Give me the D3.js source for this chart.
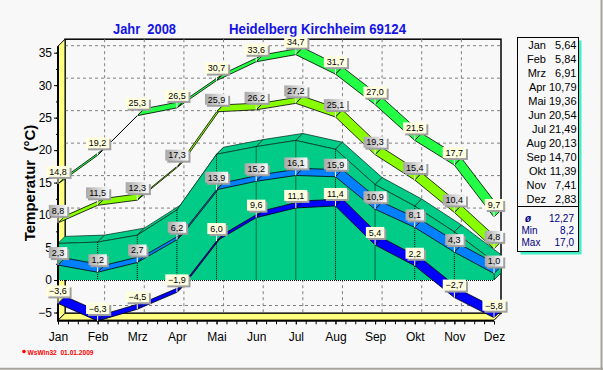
<!DOCTYPE html>
<html>
<head>
<meta charset="utf-8">
<script src="https://cdn.jsdelivr.net/npm/d3@7"></script>
<style>
  body { margin: 0; background: #f8f8f8; }
  svg { display: block; font-family: "Liberation Sans", Arial, sans-serif; }
</style>
</head>
<body>
<svg id="chart" width="603" height="370"></svg>
<script>
var months = ["Jan", "Feb", "Mrz", "Apr", "Mai", "Jun", "Jul", "Aug", "Sep", "Okt", "Nov", "Dez"];
var maxAbs = [14.8, 19.2, 25.3, 26.5, 30.7, 33.6, 34.7, 31.7, 27.0, 21.5, 17.7, 9.7];
var maxAvg = [8.8, 11.5, 12.3, 17.3, 25.9, 26.2, 27.2, 25.1, 19.3, 15.4, 10.4, 4.8];
var meanTemp = [5.64, 5.84, 6.91, 10.79, 19.36, 20.54, 21.49, 20.13, 14.70, 11.39, 7.41, 2.83];
var minAvg = [2.3, 1.2, 2.7, 6.2, 13.9, 15.2, 16.1, 15.9, 10.9, 8.1, 4.3, 1.0];
var minAbs = [-3.6, -6.3, -4.5, -1.9, 6.0, 9.6, 11.1, 11.4, 5.4, 2.2, -2.7, -5.8];
var statLabels = ["ø", "Min", "Max"];
var statValues = ["12,27", "8,2", "17,0"];
var yTicks = [-5, 0, 5, 10, 15, 20, 25, 30, 35];

var svg = d3.select("#chart");
var dx = 7, dy = -7;   // depth offset of the 3d view

var x = d3.scalePoint().domain(months).range([58, 494]);
var xi = d3.scaleLinear().domain([0, 11]).range([58, 494]);
var y = d3.scaleLinear().domain([-6.2, 36]).range([320.3, 46.2]);

var fmt = function(v) { return d3.format(".1f")(v).replace(".", ","); };
var fmt2 = function(v) { return d3.format(".2f")(v).replace(".", ","); };

var defs = svg.append("defs");
var grad = defs.append("linearGradient").attr("id", "grayLbl");
grad.append("stop").attr("offset", "0%").attr("stop-color", "#a8a8a8");
grad.append("stop").attr("offset", "100%").attr("stop-color", "#fafafa");

// window border
svg.append("rect").attr("width", 603).attr("height", 370).attr("fill", "#f8f8f8");
svg.append("line").attr("x1", 601.5).attr("x2", 601.5).attr("y1", 0).attr("y2", 370)
    .attr("stroke", "#a8a49c").attr("stroke-width", 2);
svg.append("line").attr("x1", 0).attr("x2", 603).attr("y1", 368.8).attr("y2", 368.8)
    .attr("stroke", "#a8a49c").attr("stroke-width", 2);

// title
svg.append("text").attr("x", 113).attr("y", 33.5).attr("fill", "#1414e6")
    .attr("font-size", 15).attr("font-weight", "bold")
    .attr("textLength", 63).attr("lengthAdjust", "spacingAndGlyphs")
    .style("white-space", "pre").text("Jahr  2008");
svg.append("text").attr("x", 229).attr("y", 33.5).attr("fill", "#1414e6")
    .attr("font-size", 15).attr("font-weight", "bold")
    .attr("textLength", 177).attr("lengthAdjust", "spacingAndGlyphs")
    .text("Heidelberg Kirchheim 69124");

// back wall
var bx0 = 58 + dx, bx1 = 494 + dx, by0 = y(36) + dy, by1 = y(-6.2) + dy;
svg.append("rect").attr("x", bx0).attr("y", by0).attr("width", bx1 - bx0).attr("height", by1 - by0)
    .attr("fill", "#f8f8f8").attr("stroke", "#000").attr("stroke-width", 1.5);

var grid = svg.append("g").attr("stroke", "#808080").attr("stroke-dasharray", "3,3");
grid.selectAll("line.h").data(yTicks).enter().append("line").attr("class", "h")
    .attr("x1", bx0).attr("x2", bx1)
    .attr("y1", function(d) { return y(d) + dy; }).attr("y2", function(d) { return y(d) + dy; });
grid.selectAll("line.v").data(months.slice(1, 11)).enter().append("line").attr("class", "v")
    .attr("x1", function(d) { return x(d) + dx; }).attr("x2", function(d) { return x(d) + dx; })
    .attr("y1", by0).attr("y2", by1);

// left wall and floor
svg.append("polygon")
    .attr("points", [[58, y(-6.2)], [58, y(36)], [bx0, by0], [bx0, by1]].join(" "))
    .attr("fill", "#ffff80").attr("stroke", "#000").attr("stroke-width", 1);
svg.append("polygon")
    .attr("points", [[58, y(-6.2)], [494, y(-6.2)], [bx1, by1], [bx0, by1]].join(" "))
    .attr("fill", "#ffff80").attr("stroke", "#000").attr("stroke-width", 1);

// 3d area for monthly mean
var meanPts = meanTemp.map(function(v, i) { return [xi(i), y(v)]; });
var area = svg.append("g");
area.selectAll("polygon.top").data(d3.pairs(meanPts)).enter().append("polygon")
    .attr("points", function(p) {
        return [p[0], p[1], [p[1][0] + dx, p[1][1] + dy], [p[0][0] + dx, p[0][1] + dy]].join(" ");
    })
    .attr("fill", "#00cc88").attr("stroke", "#0a3a2a").attr("stroke-width", 0.8);
var last = meanPts[11];
area.append("polygon")
    .attr("points", [last, [last[0] + dx, last[1] + dy], [last[0] + dx, y(0) + dy], [last[0], y(0)]].join(" "))
    .attr("fill", "#00cc88").attr("stroke", "#0a3a2a").attr("stroke-width", 0.8);
area.append("path")
    .attr("d", d3.area().x(function(d, i) { return xi(i); }).y0(y(0)).y1(function(d) { return y(d); })(meanTemp))
    .attr("fill", "#00cc88");
area.append("path")
    .attr("d", d3.line().x(function(d, i) { return xi(i); }).y(function(d) { return y(d); })(meanTemp))
    .attr("fill", "none").attr("stroke", "#0a3a2a").attr("stroke-width", 0.8);
area.selectAll("line.drop").data(meanTemp.slice(1)).enter().append("line")
    .attr("x1", function(d, i) { return xi(i + 1); }).attr("x2", function(d, i) { return xi(i + 1); })
    .attr("y1", function(d) { return y(d); }).attr("y2", y(0))
    .attr("stroke", "#000").attr("stroke-dasharray", "1,1");
area.append("line").attr("x1", 58).attr("x2", 494).attr("y1", y(0) + 0.5).attr("y2", y(0) + 0.5)
    .attr("stroke", "#000").attr("stroke-dasharray", "1,1");

// 3d ribbons
function ribbon(vals, color) {
    var pts = vals.map(function(v, i) { return [xi(i), y(v)]; });
    svg.append("g").selectAll("polygon").data(d3.pairs(pts)).enter().append("polygon")
        .attr("points", function(p) {
            return [p[0], p[1], [p[1][0] + dx, p[1][1] + dy], [p[0][0] + dx, p[0][1] + dy]].join(" ");
        })
        .attr("fill", color).attr("stroke", "#000").attr("stroke-width", 0.8)
        .attr("stroke-linejoin", "round");
}
ribbon(minAvg, "#0080ff");
ribbon(minAbs, "#0000ff");
ribbon(maxAvg, "#88ff00");
ribbon(maxAbs, "#22ff44");

// axes
var yAxis = svg.append("g").attr("transform", "translate(58,0)")
    .call(d3.axisLeft(y).tickValues(yTicks).tickSize(4).tickPadding(2));
yAxis.select(".domain").remove();
yAxis.selectAll("text").attr("font-size", 12).attr("font-family", "Liberation Sans, Arial").attr("fill", "#000");
var yMinor = svg.append("g").attr("transform", "translate(58,0)")
    .call(d3.axisLeft(y).tickValues(d3.range(-5, 36, 2.5)).tickSize(2).tickFormat(""));
yMinor.select(".domain").remove();
svg.append("line").attr("x1", 58).attr("x2", 58).attr("y1", y(36)).attr("y2", y(-6.2) + 1)
    .attr("stroke", "#000").attr("stroke-width", 2);

var xMinor = svg.append("g").attr("transform", "translate(0," + (y(-6.2) + 1) + ")")
    .call(d3.axisBottom(xi).tickValues(d3.range(0, 11.01, 0.25)).tickSize(3).tickFormat(""));
xMinor.select(".domain").remove();
var xAxis = svg.append("g").attr("transform", "translate(0," + (y(-6.2) + 1) + ")")
    .call(d3.axisBottom(x).tickSize(3).tickPadding(8));
xAxis.select(".domain").remove();
xAxis.selectAll("text").attr("font-size", 12).attr("font-family", "Liberation Sans, Arial").attr("fill", "#000");
svg.append("line").attr("x1", 57).attr("x2", 494).attr("y1", y(-6.2) + 0.5).attr("y2", y(-6.2) + 0.5)
    .attr("stroke", "#000").attr("stroke-width", 2);

svg.append("text").attr("transform", "translate(35,183) rotate(-90)")
    .attr("text-anchor", "middle").attr("font-size", 15).attr("font-weight", "bold")
    .style("white-space", "pre").text("Temperatur  (°C)");

// point labels
function labels(vals, style) {
    var g = svg.append("g");
    vals.forEach(function(v, i) {
        var px = xi(i), py = y(v);
        var txt = fmt(v);
        var w = txt.length * 4.8 + 4, h = 11;
        var bx = px - w / 2, byy = py - 7 - h;
        g.append("line").attr("x1", px).attr("x2", px).attr("y1", byy + h).attr("y2", py)
            .attr("stroke", "#fff").attr("stroke-width", 1);
        g.append("rect").attr("x", bx + 2).attr("y", byy + 2).attr("width", w).attr("height", h)
            .attr("fill", "#a0a0a0");
        g.append("rect").attr("x", bx).attr("y", byy).attr("width", w).attr("height", h)
            .attr("fill", style === "gray" ? "url(#grayLbl)" : "#ffffe0");
        g.append("text").attr("x", px).attr("y", byy + h - 2.2).attr("text-anchor", "middle")
            .attr("font-size", 9).attr("fill", "#000").text(txt);
    });
}
labels(minAvg, "gray");
labels(maxAvg, "gray");
labels(minAbs, "yellow");
labels(maxAbs, "yellow");

// legend box
var lg = svg.append("g");
lg.append("rect").attr("x", 520.5).attr("y", 40.5).attr("width", 61).attr("height", 214).attr("fill", "#40eec8");
lg.append("rect").attr("x", 517.5).attr("y", 37.5).attr("width", 61).attr("height", 214)
    .attr("fill", "#f8f8f8").attr("stroke", "#000").attr("stroke-width", 1);
lg.append("line").attr("x1", 517.5).attr("x2", 578.5).attr("y1", 206.5).attr("y2", 206.5).attr("stroke", "#000");
lg.selectAll("text.m").data(months).enter().append("text").attr("class", "m")
    .attr("x", 546).attr("y", function(d, i) { return 49 + i * 14; })
    .attr("text-anchor", "end").attr("font-size", 11).text(function(d) { return d; });
lg.selectAll("text.v").data(meanTemp).enter().append("text").attr("class", "v")
    .attr("x", 576.5).attr("y", function(d, i) { return 49 + i * 14; })
    .attr("text-anchor", "end").attr("font-size", 11).text(function(d) { return fmt2(d); });
lg.selectAll("text.sl").data(statLabels).enter().append("text").attr("class", "sl")
    .attr("x", function(d, i) { return i === 0 ? 525 : 521.5; })
    .attr("y", function(d, i) { return 222 + i * 11.8; })
    .attr("font-size", 10).attr("fill", "#000080")
    .attr("font-style", function(d, i) { return i === 0 ? "italic" : "normal"; })
    .attr("font-weight", function(d, i) { return i === 0 ? "bold" : "normal"; })
    .text(function(d) { return d; });
lg.selectAll("text.sv").data(statValues).enter().append("text").attr("class", "sv")
    .attr("x", 574).attr("y", function(d, i) { return 222 + i * 11.8; })
    .attr("text-anchor", "end").attr("font-size", 10).attr("fill", "#000080")
    .text(function(d) { return d; });

// footer
svg.append("circle").attr("cx", 24).attr("cy", 351.5).attr("r", 1.8).attr("fill", "#ff0000");
svg.append("text").attr("x", 27.5).attr("y", 354.5).attr("font-size", 7.5).attr("font-weight", "bold")
    .attr("fill", "#ff0000").attr("textLength", 66).attr("lengthAdjust", "spacingAndGlyphs")
    .style("white-space", "pre").text("WsWin32  01.01.2009");
</script>
</body>
</html>
